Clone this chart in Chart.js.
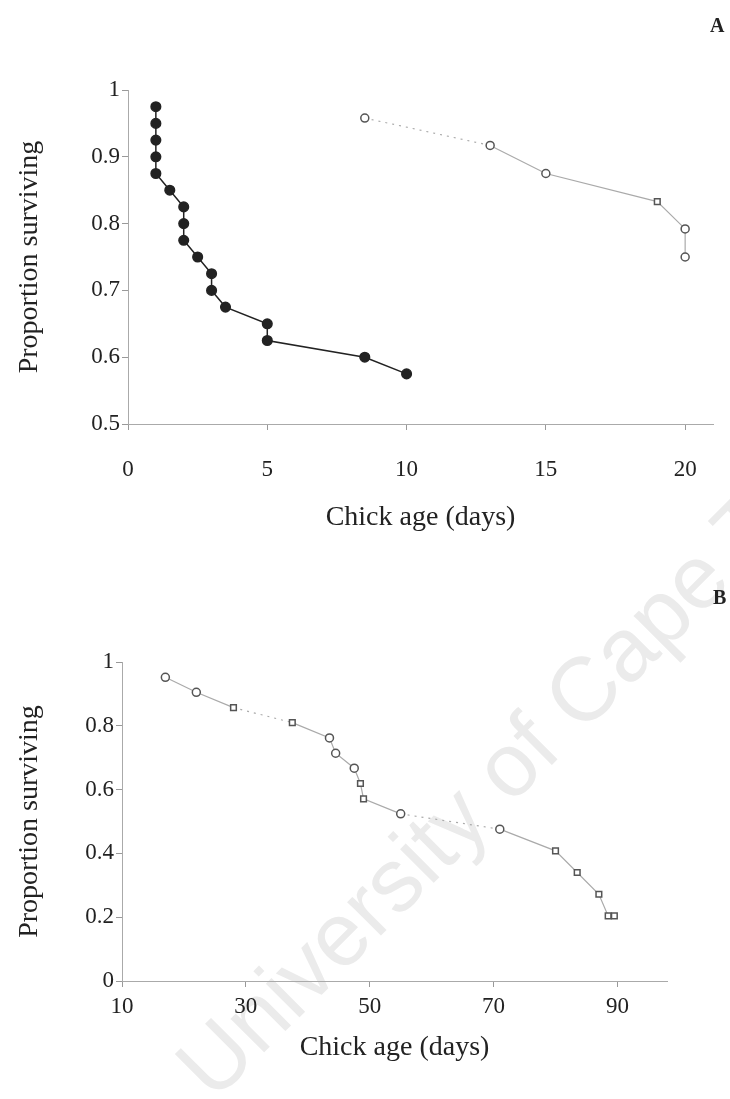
<!DOCTYPE html>
<html>
<head>
<meta charset="utf-8">
<script src="https://cdn.jsdelivr.net/npm/chart.js@4.4.1/dist/chart.umd.min.js"></script>
<style>
  html, body { margin: 0; padding: 0; background: #fff; }
  body { width: 730px; height: 1099px; position: relative; overflow: hidden; }
  .panel { position: absolute; left: 0; }
  .tag { position: absolute; font: bold 20px "Liberation Serif", serif; color: #222; }
  .mark {
    position: absolute; white-space: nowrap; transform-origin: 0 0;
    transform: rotate(-45deg); font: 90px "Liberation Sans", sans-serif;
    color: #ebebeb; line-height: 110px;
  }
</style>
</head>
<body>
<div class="mark" style="left:153px; top:1042px;">University of Cape Town</div>
<canvas id="chartA" class="panel" style="top:0" width="730" height="545"></canvas>
<canvas id="chartB" class="panel" style="top:545px" width="730" height="554"></canvas>
<div class="tag" style="left:710px; top:14px;">A</div>
<div class="tag" style="left:713px; top:586px;">B</div>
<script>
// panel A: survival over the first days (filled) and the later group (open)
const ageA1 = [1, 1, 1, 1, 1, 1.5, 2, 2, 2, 2.5, 3, 3, 3.5, 5, 5, 8.5, 10];
const survA1 = [0.975, 0.95, 0.925, 0.9, 0.875, 0.85, 0.825, 0.8, 0.775, 0.75, 0.725, 0.7, 0.675, 0.65, 0.625, 0.6, 0.575];
const ageA2 = [8.5, 13, 15, 19, 20, 20];
const survA2 = [0.958, 0.917, 0.875, 0.833, 0.792, 0.75];

// panel B: survival to fledging
const ageB = [17, 22, 28, 37.5, 43.5, 44.5, 47.5, 48.5, 49, 55, 71, 80, 83.5, 87, 88.5, 89.5];
const survB = [0.952, 0.905, 0.857, 0.810, 0.762, 0.714, 0.667, 0.619, 0.571, 0.524, 0.476, 0.408, 0.340, 0.272, 0.204, 0.204];

const ticksAx = [0, 5, 10, 15, 20];
const ticksAy = [0.5, 0.6, 0.7, 0.8, 0.9, 1];
const ticksBx = [10, 30, 50, 70, 90];
const ticksBy = [0, 0.2, 0.4, 0.6, 0.8, 1];

const tickFont = { family: '"Liberation Serif", serif', size: 23 };
const titleFont = { family: '"Liberation Serif", serif', size: 28 };
const ink = '#222';

function pts(xs, ys) {
  return xs.map((x, i) => ({ x: x, y: ys[i] }));
}

function fixed(list) {
  return function (scale) {
    scale.ticks = list.map(v => ({ value: v }));
  };
}

function yLabel(v) {
  return v === 0 || v === 1 ? String(v) : v.toFixed(1);
}

function dotted(list) {
  return ctx => list.includes(ctx.p0DataIndex) ? [2, 5] : undefined;
}

function axes(o) {
  return {
    x: {
      type: 'linear', min: o.xmin, max: o.xmax,
      afterBuildTicks: fixed(o.xt),
      afterFit: s => { s.height = o.xh; },
      grid: { drawOnChartArea: false, tickLength: 6, color: '#999' },
      border: { color: '#aaa', width: 1 },
      ticks: { font: tickFont, color: ink, padding: o.xpad, maxRotation: 0 },
      title: { display: true, text: 'Chick age (days)', font: titleFont, color: ink, padding: { top: 0, bottom: 5 } }
    },
    y: {
      type: 'linear', min: o.ymin, max: o.ymax,
      afterBuildTicks: fixed(o.yt),
      afterFit: s => { s.width = o.yw; },
      grid: { drawOnChartArea: false, tickLength: 6, color: '#999' },
      border: { color: '#aaa', width: 1 },
      ticks: { font: tickFont, color: ink, padding: 2, callback: yLabel },
      title: { display: true, text: 'Proportion surviving', font: titleFont, color: ink, padding: { top: 13, bottom: 0 } }
    }
  };
}

const common = {
  responsive: false,
  animation: false,
  plugins: { legend: { display: false }, tooltip: { enabled: false } }
};

new Chart(document.getElementById('chartA'), {
  type: 'scatter',
  data: {
    datasets: [
      {
        data: pts(ageA1, survA1), showLine: true,
        borderColor: '#222', borderWidth: 1.5,
        pointRadius: 4.8, pointBackgroundColor: '#222', pointBorderColor: '#222'
      },
      {
        data: pts(ageA2, survA2), showLine: true,
        borderColor: '#aaa', borderWidth: 1.2,
        segment: { borderDash: dotted([0]) },
        pointRadius: 4, pointBorderWidth: 1.5,
        pointBackgroundColor: '#fff', pointBorderColor: '#555',
        pointStyle: ['circle', 'circle', 'circle', 'rect', 'circle', 'circle']
      }
    ]
  },
  options: Object.assign({}, common, {
    layout: { padding: { top: 90, right: 17, left: 0, bottom: 6 } },
    scales: axes({ xmin: 0, xmax: 21, xt: ticksAx, xh: 115, xpad: 26,
                   ymin: 0.5, ymax: 1, yt: ticksAy, yw: 128 })
  })
});

new Chart(document.getElementById('chartB'), {
  type: 'scatter',
  data: {
    datasets: [
      {
        data: pts(ageB, survB), showLine: true,
        borderColor: '#aaa', borderWidth: 1.2,
        segment: { borderDash: dotted([2, 9]) },
        pointRadius: 4, pointBorderWidth: 1.5,
        pointBackgroundColor: '#fff', pointBorderColor: '#555',
        pointStyle: ['circle', 'circle', 'rect', 'rect', 'circle', 'circle', 'circle', 'rect',
                     'rect', 'circle', 'circle', 'rect', 'rect', 'rect', 'rect', 'rect']
      }
    ]
  },
  options: Object.assign({}, common, {
    layout: { padding: { top: 117, right: 63, left: 0, bottom: 30 } },
    scales: axes({ xmin: 10, xmax: 98, xt: ticksBx, xh: 88, xpad: 6,
                   ymin: 0, ymax: 1, yt: ticksBy, yw: 122 })
  })
});
</script>
</body>
</html>
